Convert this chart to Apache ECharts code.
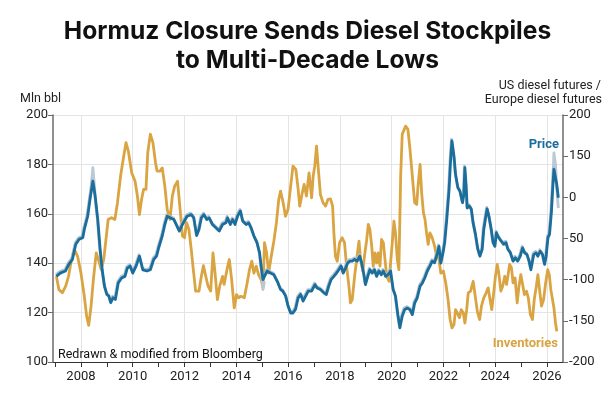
<!DOCTYPE html>
<html>
<head>
<meta charset="utf-8">
<script src="https://cdn.jsdelivr.net/npm/echarts@6/dist/echarts.min.js"></script>
<style>
  html, body { margin: 0; padding: 0; background: #fff; }
  #chart { width: 615px; height: 415px; }
</style>
</head>
<body>
<div id="chart"></div>
<script>
// inventories, mln bbl (left axis)
const inventories = [
  [2007.05,134.7],[2007.15,129.3],[2007.28,128],[2007.41,130.7],[2007.52,134.7],[2007.61,140.1],[2007.74,145.6],[2007.87,142.8],
  [2008.0,136],[2008.13,126.6],[2008.22,118.5],[2008.3,114.8],[2008.39,122.6],[2008.48,133.4],[2008.59,144.2],[2008.69,140.8],
  [2008.78,137.4],[2008.88,141.5],[2008.98,151],[2009.05,157.7],[2009.18,158.4],[2009.31,157.7],[2009.41,164.5],[2009.53,175.3],
  [2009.63,182],[2009.74,188.8],[2009.83,185.4],[2009.96,176.6],[2010.09,173.2],[2010.18,167.2],[2010.26,159.7],[2010.34,165.8],
  [2010.42,169.9],[2010.51,169.9],[2010.58,184.7],[2010.68,192.2],[2010.78,188.8],[2010.88,180.7],[2010.94,177.3],[2011.05,177.3],
  [2011.14,178.6],[2011.24,171.2],[2011.33,161.8],[2011.44,157.7],[2011.53,167.2],[2011.62,171.2],[2011.73,173.2],[2011.83,161.8],
  [2011.92,151],[2012.0,150.3],[2012.08,156.4],[2012.17,153.7],[2012.26,145.6],[2012.34,137.4],[2012.43,128.7],[2012.56,128.7],
  [2012.65,134.7],[2012.73,139],[2012.82,134.7],[2012.91,130.7],[2013.01,128.7],[2013.1,144.2],[2013.18,136],[2013.27,125.3],
  [2013.36,130.7],[2013.47,134.7],[2013.53,131.4],[2013.64,137.4],[2013.73,141.5],[2013.82,133.4],[2013.92,121.9],[2014.01,127.3],
  [2014.09,126],[2014.18,126.6],[2014.31,126],[2014.42,132],[2014.51,137.4],[2014.6,140.8],[2014.68,136],[2014.77,138.8],
  [2014.86,135.4],[2014.96,133.4],[2015.03,130],[2015.09,148.3],[2015.17,144.2],[2015.25,136],[2015.35,142.8],[2015.45,148.9],
  [2015.55,156.4],[2015.64,165.8],[2015.71,169.2],[2015.81,164.5],[2015.9,159],[2016.0,161.8],[2016.1,171.2],[2016.19,179.3],
  [2016.3,178],[2016.39,169.9],[2016.45,163.1],[2016.55,168.5],[2016.62,171.9],[2016.71,167.2],[2016.81,176.6],[2016.91,166.5],
  [2016.97,175.3],[2017.03,179.3],[2017.1,187.4],[2017.17,178],[2017.25,167.8],[2017.35,164.5],[2017.45,163.1],[2017.54,165.8],
  [2017.64,166],[2017.72,163.1],[2017.77,152.3],[2017.83,142.8],[2017.9,140.8],[2017.99,148.3],[2018.09,150.3],[2018.18,148.3],
  [2018.26,138.8],[2018.35,130.7],[2018.41,123.9],[2018.48,125.3],[2018.57,134.7],[2018.65,141.5],[2018.74,148.9],[2018.8,141.5],
  [2018.89,136.8],[2018.95,142.8],[2019.03,148.9],[2019.1,155.7],[2019.16,153.7],[2019.23,147],[2019.29,138.8],[2019.35,144.2],
  [2019.42,140.1],[2019.48,144.2],[2019.55,138.8],[2019.61,149.6],[2019.68,148.3],[2019.74,147.6],[2019.81,134.7],[2019.9,132.7],
  [2019.96,140.1],[2020.03,148.9],[2020.09,157],[2020.15,152.3],[2020.22,141.5],[2020.28,137.4],[2020.35,175.3],[2020.41,192.2],
  [2020.48,191.5],[2020.54,195.5],[2020.63,194.2],[2020.71,186.1],[2020.8,175.3],[2020.89,164.5],[2020.97,163.8],[2021.02,171.2],
  [2021.1,180],[2021.16,168.5],[2021.23,160.4],[2021.29,157.7],[2021.35,152.3],[2021.41,147.6],[2021.48,152.3],[2021.57,150.3],
  [2021.66,146.9],[2021.74,142.8],[2021.83,141.5],[2021.9,136],[2022.0,136.8],[2022.09,132],[2022.18,125.3],[2022.26,117.2],
  [2022.33,113.8],[2022.41,115.2],[2022.47,121.2],[2022.54,119.9],[2022.62,117.9],[2022.69,121.2],[2022.77,119.9],[2022.83,115.8],
  [2022.9,121.2],[2022.96,128],[2023.05,128.7],[2023.15,132.7],[2023.23,126.6],[2023.31,120.5],[2023.4,117.2],[2023.47,122.6],
  [2023.56,126],[2023.65,128],[2023.73,130],[2023.79,126],[2023.87,121.2],[2023.95,128.7],[2024.01,134.7],[2024.08,139.5],
  [2024.14,136],[2024.22,128.7],[2024.29,130.7],[2024.37,134.7],[2024.44,131.4],[2024.5,135.4],[2024.56,139.5],[2024.63,138.1],
  [2024.69,132],[2024.77,134],[2024.85,123.9],[2024.92,130.7],[2024.99,135.4],[2025.05,132],[2025.13,127.3],[2025.21,128.7],
  [2025.28,126],[2025.36,119.2],[2025.44,117.2],[2025.51,125.3],[2025.59,130.7],[2025.65,135.4],[2025.72,128.7],[2025.79,122.6],
  [2025.87,125.3],[2025.95,132],[2026.03,137.4],[2026.09,135.4],[2026.15,129.3],[2026.22,128.7],[2026.27,121.9],[2026.33,115.8],
  [2026.38,112.4]
];

// US diesel / Europe diesel price (right axis units)
const price = [
  [2007.05,-92],[2007.2,-84],[2007.4,-79],[2007.53,-63],[2007.67,-51],[2007.8,-14],[2007.93,-2],[2008.07,2],[2008.13,22],
  [2008.26,54],[2008.35,95],[2008.46,139],[2008.55,103],[2008.65,46],[2008.74,-26],[2008.82,-76],[2008.91,-116],[2009.0,-136],
  [2009.08,-140],[2009.15,-156],[2009.24,-144],[2009.33,-148],[2009.44,-108],[2009.57,-96],[2009.7,-92],[2009.79,-72],
  [2009.9,-67],[2010.0,-84],[2010.13,-67],[2010.26,-43],[2010.39,-76],[2010.55,-79],[2010.68,-76],[2010.81,-51],[2010.92,-43],
  [2011.0,-23],[2011.14,6],[2011.24,34],[2011.33,54],[2011.46,50],[2011.59,46],[2011.66,50],[2011.8,18],[2011.92,34],
  [2011.97,38],[2012.1,54],[2012.26,58],[2012.36,50],[2012.47,7],[2012.56,22],[2012.65,50],[2012.75,58],[2012.86,46],
  [2012.95,50],[2013.08,34],[2013.21,26],[2013.34,18],[2013.47,34],[2013.6,38],[2013.66,50],[2013.77,34],[2013.86,46],
  [2013.95,34],[2014.05,54],[2014.16,67],[2014.25,42],[2014.38,34],[2014.48,38],[2014.57,26],[2014.68,6],[2014.8,-10],
  [2014.9,-35],[2014.96,-67],[2015.03,-100],[2015.09,-104],[2015.19,-79],[2015.32,-84],[2015.45,-88],[2015.61,-108],
  [2015.71,-124],[2015.8,-128],[2015.91,-140],[2016.0,-164],[2016.1,-181],[2016.19,-181],[2016.29,-172],[2016.39,-144],
  [2016.49,-136],[2016.58,-152],[2016.68,-140],[2016.78,-128],[2016.91,-128],[2017.04,-112],[2017.12,-120],[2017.25,-124],
  [2017.38,-132],[2017.48,-136],[2017.57,-116],[2017.66,-100],[2017.77,-92],[2017.87,-84],[2017.96,-76],[2018.05,-67],
  [2018.13,-84],[2018.22,-72],[2018.31,-59],[2018.39,-55],[2018.48,-55],[2018.57,-51],[2018.67,-55],[2018.77,-43],
  [2018.84,-59],[2018.93,-88],[2018.99,-112],[2019.08,-92],[2019.16,-76],[2019.25,-84],[2019.34,-76],[2019.42,-92],
  [2019.51,-79],[2019.6,-88],[2019.68,-79],[2019.77,-92],[2019.86,-88],[2019.96,-79],[2020.06,-124],[2020.15,-140],
  [2020.25,-189],[2020.32,-217],[2020.41,-189],[2020.5,-173],[2020.61,-169],[2020.71,-173],[2020.8,-185],[2020.89,-157],
  [2020.99,-144],[2021.1,-116],[2021.19,-108],[2021.28,-96],[2021.38,-79],[2021.48,-67],[2021.57,-55],[2021.66,-59],
  [2021.77,-35],[2021.83,-19],[2021.9,-60],[2022.0,-30],[2022.05,-10],[2022.13,46],[2022.22,119],[2022.28,192],[2022.33,237],
  [2022.41,200],[2022.47,156],[2022.56,123],[2022.64,115],[2022.71,111],[2022.74,87],[2022.79,107],[2022.83,172],[2022.88,127],
  [2022.92,74],[2023.0,79],[2023.08,71],[2023.15,38],[2023.24,10],[2023.33,-26],[2023.41,-43],[2023.5,-26],[2023.56,22],
  [2023.63,50],[2023.69,72],[2023.76,54],[2023.85,22],[2023.92,-10],[2023.99,-19],[2024.05,14],[2024.1,6],[2024.18,-2],
  [2024.24,2],[2024.33,-14],[2024.42,-10],[2024.49,-26],[2024.59,-35],[2024.69,-55],[2024.78,-47],[2024.87,-55],[2024.97,-43],
  [2025.06,-23],[2025.14,-35],[2025.23,-39],[2025.31,-55],[2025.38,-76],[2025.49,-39],[2025.58,-35],[2025.65,-43],
  [2025.74,-31],[2025.83,-39],[2025.91,-63],[2025.97,-43],[2026.04,2],[2026.1,10],[2026.17,62],[2026.22,119],[2026.27,168],
  [2026.33,164],[2026.38,131],[2026.44,99]
];

// lighter series where it parts from the main price line
const priceAlt = [
  [2008.35,98],[2008.46,172],[2008.55,106],[2008.6,'-'],
  [2014.96,-67],[2015.03,-124],[2015.09,-104],[2015.12,'-'],
  [2026.17,62],[2026.22,125],[2026.27,208],[2026.33,180],[2026.38,120],[2026.44,74]
];

const labelYears = [2008, 2010, 2012, 2014, 2016, 2018, 2020, 2022, 2024, 2026];
const tickYears = [2007, 2008, 2009, 2010, 2011, 2012, 2013, 2014, 2015, 2016, 2017,
  2018, 2019, 2020, 2021, 2022, 2023, 2024, 2025, 2026];
const rightTicks = ['-200', '-150', '-100', '50', '0', '150', '200'];

const blue = '#1b6d9c';
const gold = '#d9a441';
const axisGray = '#6b6b6b';
const gridGray = '#e4e4e4';
const font = 'Roboto, "Liberation Sans", sans-serif';

const chart = echarts.init(document.getElementById('chart'), null, { renderer: 'canvas' });

chart.setOption({
  animation: false,
  backgroundColor: '#fff',
  textStyle: { fontFamily: font },
  title: {
    text: 'Hormuz Closure Sends Diesel Stockpiles\nto Multi-Decade Lows',
    left: 'center',
    top: 12,
    textStyle: {
      fontFamily: 'Inter, "Open Sans", sans-serif',
      fontWeight: 700,
      fontSize: 24.6,
      lineHeight: 29,
      color: '#111'
    }
  },
  grid: { left: 53, right: 52, top: 115, bottom: 53, containLabel: false },
  xAxis: {
    type: 'value',
    min: 2006.92,
    max: 2026.62,
    axisLine: { show: true, onZero: false, lineStyle: { color: '#333', width: 1 } },
    axisTick: { show: true, customValues: tickYears, length: 5, lineStyle: { color: '#333' } },
    axisLabel: {
      customValues: labelYears,
      color: '#222', fontSize: 13, margin: 8,
      formatter: v => String(v)
    },
    splitLine: { show: false }
  },
  yAxis: [
    {
      type: 'value',
      min: 100, max: 200, interval: 20,
      position: 'left',
      axisLine: { show: true, lineStyle: { color: axisGray, width: 1.5 } },
      axisTick: { show: true, length: 5, lineStyle: { color: axisGray } },
      axisLabel: { color: '#222', fontSize: 13, margin: 5 },
      splitLine: { show: true, lineStyle: { color: gridGray, width: 1 } }
    },
    {
      type: 'value',
      min: -300, max: 300, interval: 100,
      position: 'right',
      axisLine: { show: true, lineStyle: { color: axisGray, width: 1.5 } },
      axisTick: { show: true, length: 5, lineStyle: { color: axisGray } },
      axisLabel: {
        color: '#222', fontSize: 13, margin: 6,
        formatter: v => rightTicks[Math.round((v + 300) / 100)]
      },
      splitLine: { show: false }
    }
  ],
  graphic: [
    { type: 'text', left: 20, top: 92, style: { text: 'Mln bbl', font: '12.5px ' + font, fill: '#222' } },
    { type: 'text', right: 14, top: 79, style: { text: 'US diesel futures /', font: '12.5px ' + font, fill: '#222', textAlign: 'right' } },
    { type: 'text', right: 13, top: 93, style: { text: 'Europe diesel futures', font: '12.5px ' + font, fill: '#222', textAlign: 'right' } },
    { type: 'text', right: 56, top: 138, z: 10, style: { text: 'Price', font: 'bold 13px ' + font, fill: blue, textAlign: 'right' } },
    { type: 'text', right: 57, top: 337, z: 10, style: { text: 'Inventories', font: 'bold 13px ' + font, fill: gold, textAlign: 'right' } },
    { type: 'text', left: 58, top: 348, z: 10, style: { text: 'Redrawn & modified from Bloomberg', font: '12.5px ' + font, fill: '#111' } }
  ],
  series: [
    {
      name: 'Inventories',
      type: 'line',
      yAxisIndex: 0,
      data: inventories,
      showSymbol: false,
      z: 3,
      lineStyle: { color: gold, width: 2.8, join: 'round' },
      markLine: {
        silent: true,
        z: 1,
        symbol: ['none', 'none'],
        label: { show: false },
        emphasis: { disabled: true },
        lineStyle: { color: gridGray, width: 1, type: 'solid' },
        data: labelYears.map(y => ({ xAxis: y }))
      }
    },
    {
      name: 'Price Europe',
      type: 'line',
      yAxisIndex: 1,
      data: priceAlt,
      showSymbol: false,
      connectNulls: false,
      z: 4,
      lineStyle: { color: '#b9c9d6', width: 2.8, join: 'round' }
    },
    {
      name: 'Price',
      type: 'line',
      yAxisIndex: 1,
      data: price,
      showSymbol: false,
      z: 5,
      lineStyle: {
        color: blue, width: 2.8, join: 'round',
        shadowColor: 'rgba(170,190,205,0.9)', shadowOffsetY: -1.5, shadowOffsetX: -0.5
      }
    }
  ]
});
</script>
</body>
</html>
